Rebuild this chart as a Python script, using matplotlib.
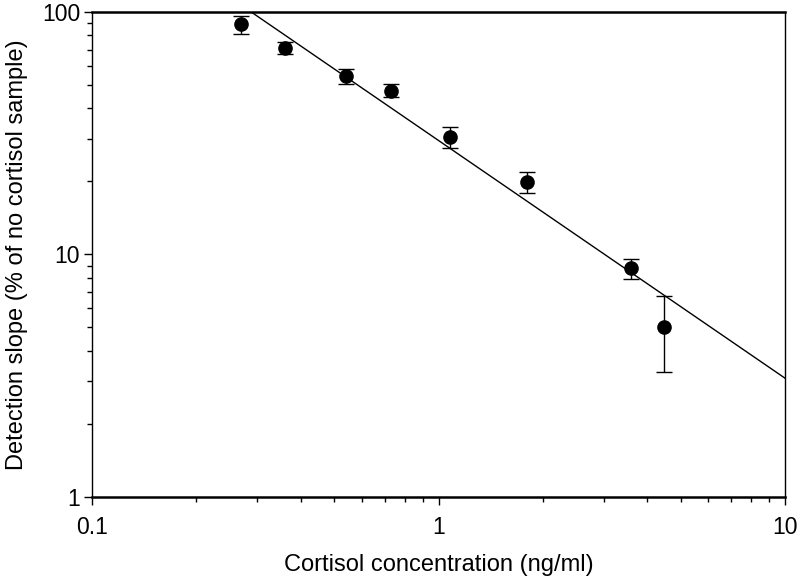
import matplotlib
matplotlib.use("Agg")
import matplotlib.pyplot as plt
import numpy as np
from matplotlib.ticker import LogLocator, NullFormatter, FixedLocator, FixedFormatter

plt.rcParams['font.family'] = ['Liberation Sans', 'DejaVu Sans']

# data
conc = [0.269, 0.360, 0.541, 0.729, 1.08, 1.80, 3.59, 4.48]
slope = [89.2, 71.0, 54.5, 47.2, 30.5, 19.9, 8.79, 5.02]
err_hi = [96.3, 75.2, 58.2, 50.5, 33.6, 21.9, 9.6, 6.75]
err_lo = [81.2, 67.1, 50.5, 44.6, 27.5, 18.0, 7.9, 3.28]
fit_x = [0.288, 10.0]
fit_y = [100.0, 3.09]
xticks = [0.1, 1, 10]
xtick_labels = ["0.1", "1", "10"]
yticks = [1, 10, 100]
ytick_labels = ["1", "10", "100"]

fig = plt.figure(figsize=(8.0, 5.84), dpi=100)
ax = fig.add_axes([0.115, 0.149, 0.86625, 0.8305])

ax.set_xscale('log')
ax.set_yscale('log')
ax.set_xlim(0.1, 10)
ax.set_ylim(1, 100)

conc_a = np.array(conc)
slope_a = np.array(slope)
yerr = [slope_a - np.array(err_lo), np.array(err_hi) - slope_a]

ax.plot(fit_x, fit_y, color='black', lw=1.0, zorder=2)
ax.errorbar(conc_a, slope_a, yerr=yerr, fmt='o', color='black', ms=9.5,
            ecolor='black', elinewidth=1.0, capsize=5.5, capthick=1.0, zorder=3)

ax.xaxis.set_major_locator(FixedLocator(xticks))
ax.xaxis.set_major_formatter(FixedFormatter(xtick_labels))
ax.yaxis.set_major_locator(FixedLocator(yticks))
ax.yaxis.set_major_formatter(FixedFormatter(ytick_labels))
ax.xaxis.set_minor_locator(LogLocator(base=10, subs=np.arange(2, 10)))
ax.yaxis.set_minor_locator(LogLocator(base=10, subs=np.arange(2, 10)))
ax.xaxis.set_minor_formatter(NullFormatter())
ax.yaxis.set_minor_formatter(NullFormatter())

ax.tick_params(which='major', direction='out', length=5.5, width=1.0,
               labelsize=16.5, top=False, right=False)
ax.tick_params(which='minor', direction='out', length=3.5, width=1.0,
               top=False, right=False)
ax.tick_params(axis='x', which='major', pad=8)
ax.tick_params(axis='y', which='major', pad=3)

for s in ['top', 'bottom']:
    ax.spines[s].set_linewidth(1.8)
for s in ['left', 'right']:
    ax.spines[s].set_linewidth(1.0)

ax.set_xlabel("Cortisol concentration (ng/ml)", fontsize=17, labelpad=11)
ax.set_ylabel("Detection slope (% of no cortisol sample)", fontsize=17, labelpad=10)

fig.savefig("out.png", dpi=100)
